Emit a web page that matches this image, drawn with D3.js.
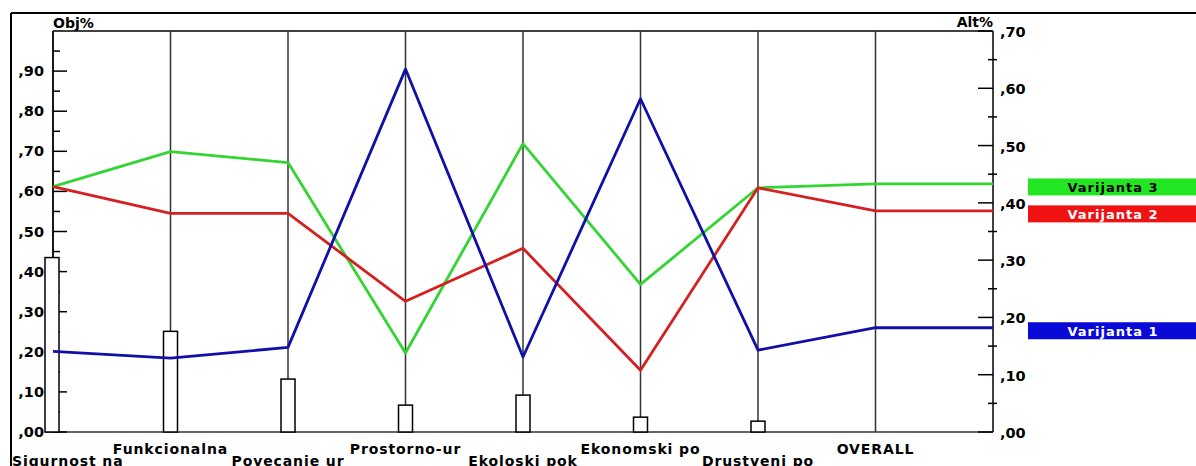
<!DOCTYPE html>
<html>
<head>
<meta charset="utf-8">
<script src="https://cdn.jsdelivr.net/npm/d3@7"></script>
<style>
  body { margin: 0; background: #fff; }
  svg { display: block; }
  text { font-family: "DejaVu Sans", sans-serif; font-weight: bold; }
</style>
</head>
<body>
<div id="chart"></div>
<script>
// criteria along the x axis (OVERALL is the last one, on the Alt% scale)
const criteria = ['Sigurnost na', 'Funkcionalna', 'Povecanje ur', 'Prostorno-ur',
  'Ekoloski pok', 'Ekonomski po', 'Drustveni po', 'OVERALL'];

// criterion weights (white bars, Obj% scale)
const weights = [0.435, 0.251, 0.132, 0.067, 0.092, 0.037, 0.027];

// variant scores per criterion (Obj% scale)
const varijanta1 = [0.201, 0.184, 0.211, 0.905, 0.187, 0.831, 0.204];
const varijanta2 = [0.612, 0.545, 0.545, 0.326, 0.458, 0.154, 0.609];
const varijanta3 = [0.612, 0.699, 0.672, 0.197, 0.719, 0.368, 0.609];

// overall result per variant (Alt% scale)
const overall = [0.182, 0.386, 0.433];

const seriesNames = ['Varijanta 1', 'Varijanta 2', 'Varijanta 3'];

const leftTicks = [0, 0.1, 0.2, 0.3, 0.4, 0.5, 0.6, 0.7, 0.8, 0.9];
const leftTickLabels = [',00', ',10', ',20', ',30', ',40', ',50', ',60', ',70', ',80', ',90'];
const rightTicks = [0, 0.1, 0.2, 0.3, 0.4, 0.5, 0.6, 0.7];
const rightTickLabels = [',00', ',10', ',20', ',30', ',40', ',50', ',60', ',70'];

const width = 1196;
const height = 466;
const plot = {left: 53, right: 993, top: 31, bottom: 432};
const colors = ['#1010a8', '#d42020', '#33d433'];
const boxColors = ['#0a0ad8', '#ee1212', '#22e622'];
const boxText = ['#fff', '#fff', '#000'];
const barWidth = 14;

let svg = d3.select('#chart').append('svg')
  .attr('width', width)
  .attr('height', height)

let x = d3.scaleLinear().domain([0, criteria.length]).range([plot.left, plot.right]);
let yObj = d3.scaleLinear().domain([0, 1]).range([plot.bottom, plot.top]);
let yAlt = d3.scaleLinear().domain([0, 0.7]).range([plot.bottom, plot.top]);

// outer frame
svg.append('line').attr('x1', 11).attr('x2', width).attr('y1', 13).attr('y2', 13)
  .attr('stroke', '#000').attr('stroke-width', 2)
svg.append('line').attr('x1', 11).attr('x2', 11).attr('y1', 13).attr('y2', height)
  .attr('stroke', '#000').attr('stroke-width', 2)

// plot border top + bottom
svg.append('line').attr('x1', plot.left).attr('x2', plot.right)
  .attr('y1', plot.top).attr('y2', plot.top).attr('stroke', '#000').attr('stroke-width', 1.5)
svg.append('line').attr('x1', 45).attr('x2', plot.right)
  .attr('y1', plot.bottom).attr('y2', plot.bottom).attr('stroke', '#333').attr('stroke-width', 1.5)

// criterion lines
svg.selectAll('line.crit').data(criteria).enter().append('line')
  .attr('x1', (d, i) => x(i)).attr('x2', (d, i) => x(i))
  .attr('y1', plot.top).attr('y2', plot.bottom)
  .attr('stroke', '#333').attr('stroke-width', 1.5)

// left axis
let leftAxis = svg.append('g')
leftAxis.append('line').attr('x1', plot.left).attr('x2', plot.left)
  .attr('y1', plot.top).attr('y2', plot.bottom).attr('stroke', '#000').attr('stroke-width', 1.5)
leftAxis.selectAll('line.major').data(leftTicks).enter().append('line')
  .attr('x1', plot.left).attr('x2', plot.left + 14)
  .attr('y1', d => yObj(d)).attr('y2', d => yObj(d)).attr('stroke', '#000').attr('stroke-width', 1.5)
leftAxis.selectAll('line.minor').data(leftTicks).enter().append('line')
  .attr('x1', plot.left).attr('x2', plot.left + 7)
  .attr('y1', d => yObj(d + 0.05)).attr('y2', d => yObj(d + 0.05)).attr('stroke', '#000').attr('stroke-width', 1.5)
leftAxis.selectAll('text').data(leftTicks).enter().append('text')
  .attr('x', 44).attr('y', d => yObj(d) + 5)
  .attr('text-anchor', 'end').attr('font-size', 14.5)
  .text((d, i) => leftTickLabels[i])

// right axis
let rightAxis = svg.append('g')
rightAxis.append('line').attr('x1', plot.right).attr('x2', plot.right)
  .attr('y1', plot.top).attr('y2', plot.bottom).attr('stroke', '#000').attr('stroke-width', 1.5)
rightAxis.selectAll('line.major').data(rightTicks).enter().append('line')
  .attr('x1', plot.right - 15).attr('x2', plot.right)
  .attr('y1', d => yAlt(d)).attr('y2', d => yAlt(d)).attr('stroke', '#000').attr('stroke-width', 1.5)
rightAxis.selectAll('line.minor').data(rightTicks.slice(0, -1)).enter().append('line')
  .attr('x1', plot.right - 5).attr('x2', plot.right + 4)
  .attr('y1', d => yAlt(d + 0.05)).attr('y2', d => yAlt(d + 0.05)).attr('stroke', '#000').attr('stroke-width', 1.5)
rightAxis.selectAll('text').data(rightTicks).enter().append('text')
  .attr('x', 1000).attr('y', d => yAlt(d) + 6)
  .attr('font-size', 14.5)
  .text((d, i) => rightTickLabels[i])

svg.append('text').attr('x', plot.left).attr('y', 28).attr('font-size', 14).text('Obj%')
svg.append('text').attr('x', plot.right).attr('y', 27).attr('font-size', 14)
  .attr('text-anchor', 'end').text('Alt%')

// weight bars
svg.selectAll('rect.bar').data(weights).enter().append('rect')
  .attr('x', (d, i) => x(i) - barWidth / 2 - (i === 0 ? 1 : 0))
  .attr('width', barWidth)
  .attr('y', d => yObj(d))
  .attr('height', d => plot.bottom - yObj(d))
  .attr('fill', '#fff').attr('stroke', '#000').attr('stroke-width', 1.5)

// variant lines
let scores = [varijanta1, varijanta2, varijanta3];
let lineGen = d3.line().x(d => d[0]).y(d => d[1]);
[2, 1, 0].forEach(s => {
  let pts = scores[s].map((v, i) => [x(i), yObj(v)]);
  pts.push([x(criteria.length - 1), yAlt(overall[s])]);
  pts.push([plot.right, yAlt(overall[s])]);
  svg.append('path').datum(pts)
    .attr('d', lineGen)
    .attr('fill', 'none')
    .attr('stroke', colors[s])
    .attr('stroke-width', 2.8)
    .attr('stroke-linejoin', 'round')
})

// legend boxes
seriesNames.forEach((name, s) => {
  let cy = yAlt(overall[s]) + 3;
  let g = svg.append('g')
  g.append('rect').attr('x', 1029).attr('y', cy - 6).attr('width', width - 1029).attr('height', 2)
    .attr('fill', '#888').attr('transform', 'translate(0, 8)')
  g.append('rect').attr('x', 1028).attr('y', cy - 8.5).attr('width', width - 1028).attr('height', 17)
    .attr('fill', boxColors[s])
  g.append('text').attr('x', 1113).attr('y', cy + 5)
    .attr('text-anchor', 'middle').attr('font-size', 13).attr('letter-spacing', 1)
    .attr('fill', boxText[s])
    .text(name)
})

// criterion labels, alternating rows
svg.selectAll('text.crit').data(criteria).enter().append('text')
  .classed('crit', true)
  .attr('font-size', 14).attr('letter-spacing', 0.9)
  .attr('y', (d, i) => i % 2 === 1 ? 454 : 466)
  .text(d => d)
  .each(function (d, i) {
    let w = this.getComputedTextLength();
    let left = Math.max(12, x(i) - w / 2);
    d3.select(this).attr('x', left);
  })
</script>
</body>
</html>
